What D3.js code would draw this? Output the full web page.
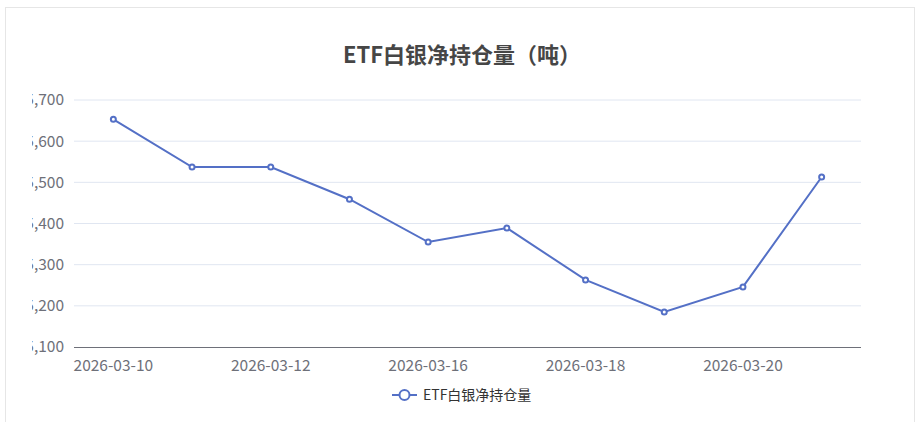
<!DOCTYPE html><html><head><meta charset="utf-8"><script src="https://cdn.jsdelivr.net/npm/d3@7"></script>
<style>body{margin:0;background:#fff;font-family:"Microsoft YaHei","Noto Sans CJK SC",sans-serif}</style></head><body><svg id="c" width="921" height="422"></svg>
<script>
const dates=["2026-03-10","2026-03-11","2026-03-12","2026-03-13","2026-03-16","2026-03-17","2026-03-18","2026-03-19","2026-03-20","2026-03-23"];
const values=[15653,15537,15537,15459,15355,15389,15263,15185,15246,15513];
const yTicks=[15100,15200,15300,15400,15500,15600,15700];
const title="ETF白银净持仓量（吨）", seriesName="ETF白银净持仓量";
const svg=d3.select("#c"), col="#5470c6";
svg.append("rect").attr("x",5.5).attr("y",7.5).attr("width",909).attr("height",420).attr("fill","#fff").attr("stroke","#e6e6e6");
svg.append("defs").append("clipPath").attr("id","cp").append("rect").attr("x",32).attr("y",0).attr("width",890).attr("height",422);
const x=d3.scaleBand().domain(dates).range([74,861]);
const y=d3.scaleLinear().domain([15100,15700]).range([347,100]);
const g=svg.append("g").attr("clip-path","url(#cp)");
yTicks.forEach(t=>{
 if(t>15100) g.append("line").attr("x1",74).attr("x2",861).attr("y1",y(t)).attr("y2",y(t)).attr("stroke","#e0e6f1");
 g.append("text").attr("x",64).attr("y",y(t)).attr("dy","0.35em").attr("text-anchor","end").attr("fill","#6e7079").attr("font-size",15.5).text(d3.format(",")(t));
});
svg.append("line").attr("x1",74).attr("x2",861).attr("y1",347.5).attr("y2",347.5).attr("stroke","#6e7079");
dates.forEach((d,i)=>{ if(i%2==0) svg.append("text").attr("x",x(d)+x.bandwidth()/2).attr("y",371).attr("text-anchor","middle").attr("fill","#6e7079").attr("font-size",15.5).text(d);});
const cx=d=>x(d)+x.bandwidth()/2;
svg.append("path").datum(values).attr("fill","none").attr("stroke",col).attr("stroke-width",2).attr("d",d3.line().x((v,i)=>cx(dates[i])).y(v=>y(v)));
values.forEach((v,i)=>svg.append("circle").attr("cx",cx(dates[i])).attr("cy",y(v)).attr("r",2.5).attr("fill","#fff").attr("stroke",col).attr("stroke-width",2));
svg.append("text").attr("x",462).attr("y",63).attr("text-anchor","middle").attr("font-size",22).attr("font-weight","bold").attr("fill","#464646").text(title);
svg.append("line").attr("x1",392).attr("x2",417).attr("y1",395).attr("y2",395).attr("stroke",col).attr("stroke-width",2);
svg.append("circle").attr("cx",404.5).attr("cy",395).attr("r",5).attr("fill","#fff").attr("stroke",col).attr("stroke-width",2);
svg.append("text").attr("x",423).attr("y",395).attr("dy","0.35em").attr("font-size",14).attr("fill","#333").text(seriesName);
</script></body></html>
